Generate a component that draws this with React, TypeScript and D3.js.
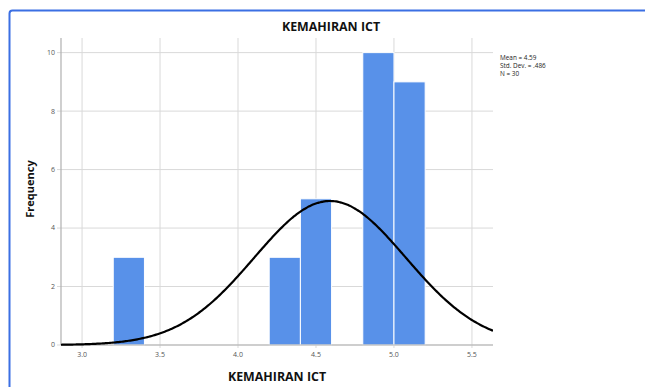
import React from "react";
import * as d3 from "d3";

const binStarts = [3.2, 4.2, 4.4, 4.8, 5.0];
const binCounts = [3, 3, 5, 10, 9];
const binWidth = 0.2;
const xTicks = [3.0, 3.5, 4.0, 4.5, 5.0, 5.5];
const yTicks = [0, 2, 4, 6, 8, 10];
const mean = 4.59;
const sd = 0.486;
const n = 30;
const statsLines = ["Mean = 4.59", "Std. Dev. = .486", "N = 30"];

export default function App() {
  const W = 645, H = 387;
  const left = 61, right = 493, top = 38, bottom = 345;
  const x = d3.scaleLinear().domain([2.865, 5.635]).range([left, right]);
  const y = d3.scaleLinear().domain([0, 10.5]).range([bottom, top]);
  const pts: [number, number][] = [];
  for (let i = 0; i <= 300; i++) {
    const v = 2.865 + (i / 300) * (5.635 - 2.865);
    const d = (n * binWidth) / (sd * Math.sqrt(2 * Math.PI)) * Math.exp(-0.5 * ((v - mean) / sd) ** 2);
    pts.push([v, d]);
  }
  const line = d3.line<[number, number]>().x(d => x(d[0])).y(d => y(d[1])).curve(d3.curveBasis);
  const font = "'Open Sans', 'DejaVu Sans', sans-serif";
  return (
    <svg width={W} height={H} style={{ position: "absolute", left: 0, top: 0, background: "#fff" }} fontFamily={font}>
      <rect x={9.5} y={10.5} width={W} height={H} rx={3} fill="none" stroke="#3b6fe3" strokeWidth={2} />
      {yTicks.map(t => (
        <g key={"y" + t}>
          <line x1={left - 4} x2={right} y1={y(t)} y2={y(t)} stroke="#d9d9d9" strokeWidth={1} />
          <text x={left - 6} y={y(t)} dy="0.35em" textAnchor="end" fontSize={7} fill="#555">{t}</text>
        </g>
      ))}
      {xTicks.map(t => (
        <g key={"x" + t}>
          <line x1={x(t)} x2={x(t)} y1={top} y2={bottom + 3} stroke="#d9d9d9" strokeWidth={1} />
          <text x={x(t)} y={bottom + 12} textAnchor="middle" fontSize={7} fill="#555">{t.toFixed(1)}</text>
        </g>
      ))}
      {binStarts.map((b, i) => (
        <rect key={"b" + i} x={x(b)} y={y(binCounts[i])} width={x(b + binWidth) - x(b)} height={y(0) - y(binCounts[i])}
          fill="#5891e9" stroke="#fff" strokeWidth={1} />
      ))}
      <line x1={left} x2={left} y1={top} y2={bottom} stroke="#b0b0b0" strokeWidth={1.2} />
      <line x1={left} x2={right} y1={bottom} y2={bottom} stroke="#b0b0b0" strokeWidth={1.2} />
      <defs>
        <clipPath id="plotclip"><rect x={left} y={top} width={right - left} height={bottom - top + 2} /></clipPath>
      </defs>
      <path d={line(pts) || ""} fill="none" stroke="#000" strokeWidth={2.2} clipPath="url(#plotclip)" />
      <text x={331} y={31} textAnchor="middle" fontSize={12.4} fontWeight="bold" fill="#111">KEMAHIRAN ICT</text>
      <text x={277} y={381} textAnchor="middle" fontSize={12.4} fontWeight="bold" fill="#111">KEMAHIRAN ICT</text>
      <text transform={`translate(34,189) rotate(-90)`} textAnchor="middle" fontSize={11} fontWeight="bold" fill="#111">Frequency</text>
      {statsLines.map((s, i) => (
        <text key={s} x={500} y={60 + i * 8.2} fontSize={6.4} fill="#222" textLength={undefined}>{s}</text>
      ))}
    </svg>
  );
}
